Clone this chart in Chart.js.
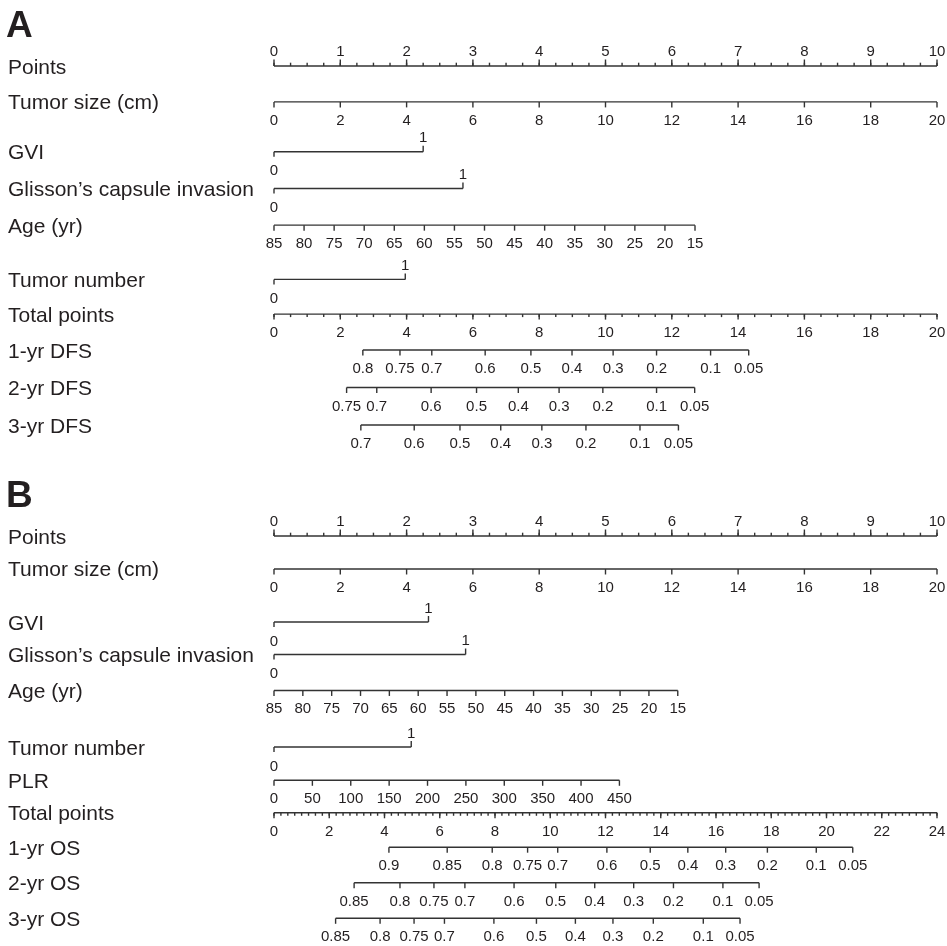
<!DOCTYPE html>
<html>
<head>
<meta charset="utf-8">
<script src="https://cdn.jsdelivr.net/npm/chart.js@4"></script>
<style>
html, body { margin: 0; padding: 0; background: #fff; }
#wrap { position: relative; width: 947px; height: 946px; }
canvas { position: absolute; left: 0; }
</style>
</head>
<body>
<div id="wrap">
  <canvas id="panelA" width="947" height="470" style="top:0"></canvas>
  <canvas id="panelB" width="947" height="476" style="top:470px"></canvas>
</div>
<script>
// ---- values ----
const pointsTicks = [0, 1, 2, 3, 4, 5, 6, 7, 8, 9, 10];
const tumorSizeTicks = [0, 2, 4, 6, 8, 10, 12, 14, 16, 18, 20];
const ageTicks = [85, 80, 75, 70, 65, 60, 55, 50, 45, 40, 35, 30, 25, 20, 15];
const plrTicks = [0, 50, 100, 150, 200, 250, 300, 350, 400, 450];
const totalTicksA = [0, 2, 4, 6, 8, 10, 12, 14, 16, 18, 20];
const totalTicksB = [0, 2, 4, 6, 8, 10, 12, 14, 16, 18, 20, 22, 24];

// points given at the far end of each predictor
const ptsA = { gvi: 2.25, glisson: 2.85, age: 6.35, tumorNum: 1.98 };
const ptsB = { gvi: 2.33, glisson: 2.89, age: 6.09, tumorNum: 2.07, plr: 5.21 };

// survival probability ticks and where they sit on the total points axis
const dfs1Probs = [0.8, 0.75, 0.7, 0.6, 0.5, 0.4, 0.3, 0.2, 0.1, 0.05];
const dfs1Total = [2.68, 3.80, 4.76, 6.37, 7.75, 8.99, 10.23, 11.54, 13.17, 14.32];
const dfs2Probs = [0.75, 0.7, 0.6, 0.5, 0.4, 0.3, 0.2, 0.1, 0.05];
const dfs2Total = [2.19, 3.10, 4.74, 6.11, 7.37, 8.60, 9.92, 11.54, 12.69];
const dfs3Probs = [0.7, 0.6, 0.5, 0.4, 0.3, 0.2, 0.1, 0.05];
const dfs3Total = [2.62, 4.23, 5.61, 6.84, 8.08, 9.41, 11.04, 12.20];

const os1Probs = [0.9, 0.85, 0.8, 0.75, 0.7, 0.6, 0.5, 0.4, 0.3, 0.2, 0.1, 0.05];
const os1Total = [4.16, 6.27, 7.90, 9.18, 10.27, 12.05, 13.62, 14.98, 16.35, 17.86, 19.63, 20.95];
const os2Probs = [0.85, 0.8, 0.75, 0.7, 0.6, 0.5, 0.4, 0.3, 0.2, 0.1, 0.05];
const os2Total = [2.90, 4.56, 5.79, 6.91, 8.69, 10.20, 11.61, 13.02, 14.46, 16.25, 17.56];
const os3Probs = [0.85, 0.8, 0.75, 0.7, 0.6, 0.5, 0.4, 0.3, 0.2, 0.1, 0.05];
const os3Total = [2.23, 3.84, 5.07, 6.17, 7.96, 9.50, 10.91, 12.27, 13.73, 15.54, 16.87];

// ---- look ----
const FONT = '"Liberation Sans", Arial, Helvetica, sans-serif';
const LINE = '#333333';
const TEXT = '#231f20';

// row descriptions, tick positions in "points" (0..10)
function linRow(label, values, toPts, minor) {
    return {
        label,
        kind: 'below',
        ticks: values.map(v => ({ p: toPts(v), text: String(v) })),
        minor: minor || []
    };
}
function probRow(label, probs, totals, k) {
    return {
        label,
        kind: 'below',
        ticks: probs.map((v, i) => ({ p: totals[i] * k, text: String(v) })),
        minor: []
    };
}
function binRow(label, p1) {
    return { label, kind: 'binary', ticks: [{ p: 0, text: '0' }, { p: p1, text: '1' }], minor: [] };
}
function steps(max, step, scale) {
    const out = [];
    for (let v = 0; v <= max + 1e-9; v += step) out.push(v * scale);
    return out;
}

const kA = 10 / 20, kB = 10 / 24;

const rowsA = [
    { label: 'Points', kind: 'top', ticks: pointsTicks.map(v => ({ p: v, text: String(v) })), minor: steps(10, 0.25, 1) },
    linRow('Tumor size (cm)', tumorSizeTicks, v => v / 20 * 10),
    binRow('GVI', ptsA.gvi),
    binRow('Glisson\u2019s capsule invasion', ptsA.glisson),
    linRow('Age (yr)', ageTicks, v => (85 - v) / 70 * ptsA.age),
    binRow('Tumor number', ptsA.tumorNum),
    linRow('Total points', totalTicksA, v => v * kA, steps(20, 0.5, kA)),
    probRow('1-yr DFS', dfs1Probs, dfs1Total, kA),
    probRow('2-yr DFS', dfs2Probs, dfs2Total, kA),
    probRow('3-yr DFS', dfs3Probs, dfs3Total, kA)
];
const rowPosA = [0, 0.9, 2.15, 3.07, 3.99, 5.35, 6.22, 7.12, 8.06, 9];

const rowsB = [
    { label: 'Points', kind: 'top', ticks: pointsTicks.map(v => ({ p: v, text: String(v) })), minor: steps(10, 0.25, 1) },
    linRow('Tumor size (cm)', tumorSizeTicks, v => v / 20 * 10),
    binRow('GVI', ptsB.gvi),
    binRow('Glisson\u2019s capsule invasion', ptsB.glisson),
    linRow('Age (yr)', ageTicks, v => (85 - v) / 70 * ptsB.age),
    binRow('Tumor number', ptsB.tumorNum),
    linRow('PLR', plrTicks, v => v / 450 * ptsB.plr),
    linRow('Total points', totalTicksB, v => v * kB, steps(24, 0.25, kB)),
    probRow('1-yr OS', os1Probs, os1Total, kB),
    probRow('2-yr OS', os2Probs, os2Total, kB),
    probRow('3-yr OS', os3Probs, os3Total, kB)
];
const rowPosB = [0, 0.863, 2.25, 3.10, 4.04, 5.52, 6.39, 7.24, 8.14, 9.07, 10];

// draws ticks, tick labels, row labels and the panel letter
function nomoPlugin(letter, rows, rowPos) {
    return {
        id: 'nomo' + letter,
        afterDatasetsDraw(chart) {
            const { ctx } = chart;
            const xs = chart.scales.x, ys = chart.scales.y;
            ctx.save();
            ctx.strokeStyle = LINE;
            ctx.lineWidth = 1.4;
            ctx.fillStyle = TEXT;

            ctx.font = 'bold 37px ' + FONT;
            ctx.textAlign = 'left';
            ctx.textBaseline = 'alphabetic';
            ctx.fillText(letter, 6, 37);

            const tick = (px, y0, y1) => {
                ctx.beginPath();
                ctx.moveTo(px, y0);
                ctx.lineTo(px, y1);
                ctx.stroke();
            };

            rows.forEach((row, i) => {
                const py = ys.getPixelForValue(rowPos[i]);
                ctx.font = '21px ' + FONT;
                ctx.textAlign = 'left';
                ctx.fillText(row.label, 8, py + 7.5);

                ctx.font = '15px ' + FONT;
                ctx.textAlign = 'center';
                if (row.kind === 'top') {
                    row.minor.forEach(p => tick(xs.getPixelForValue(p), py, py - 3.3));
                    row.ticks.forEach(t => {
                        const px = xs.getPixelForValue(t.p);
                        tick(px, py, py - 6.5);
                        ctx.fillText(t.text, px, py - 10.5);
                    });
                } else if (row.kind === 'binary') {
                    const p0 = xs.getPixelForValue(row.ticks[0].p);
                    const p1 = xs.getPixelForValue(row.ticks[1].p);
                    tick(p0, py, py + 5);
                    tick(p1, py, py - 6);
                    ctx.fillText(row.ticks[0].text, p0, py + 23.5);
                    ctx.fillText(row.ticks[1].text, p1, py - 9.5);
                } else {
                    row.minor.forEach(p => tick(xs.getPixelForValue(p), py, py + 3));
                    row.ticks.forEach(t => {
                        const px = xs.getPixelForValue(t.p);
                        tick(px, py, py + 5.5);
                        ctx.fillText(t.text, px, py + 23);
                    });
                }
            });
            ctx.restore();
        }
    };
}

function makePanel(id, letter, rows, rowPos, yMax, padBottom) {
    const datasets = rows.map((row, i) => {
        const ps = row.ticks.map(t => t.p);
        return {
            label: row.label,
            data: [{ x: Math.min(...ps), y: rowPos[i] }, { x: Math.max(...ps), y: rowPos[i] }],
            showLine: true,
            borderColor: LINE,
            borderWidth: 1.4,
            pointRadius: 0,
            clip: false
        };
    });
    new Chart(document.getElementById(id).getContext('2d'), {
        type: 'scatter',
        data: { datasets },
        options: {
            responsive: false,
            animation: false,
            devicePixelRatio: 1,
            layout: { padding: { left: 274, right: 10, top: 66, bottom: padBottom } },
            plugins: { legend: { display: false }, tooltip: { enabled: false } },
            scales: {
                x: { type: 'linear', min: 0, max: 10, display: false },
                y: { type: 'linear', min: 0, max: yMax, reverse: true, display: false }
            }
        },
        plugins: [nomoPlugin(letter, rows, rowPos)]
    });
}

makePanel('panelA', 'A', rowsA, rowPosA, 9, 45);
makePanel('panelB', 'B', rowsB, rowPosB, 10, 27.7);
</script>
</body>
</html>
